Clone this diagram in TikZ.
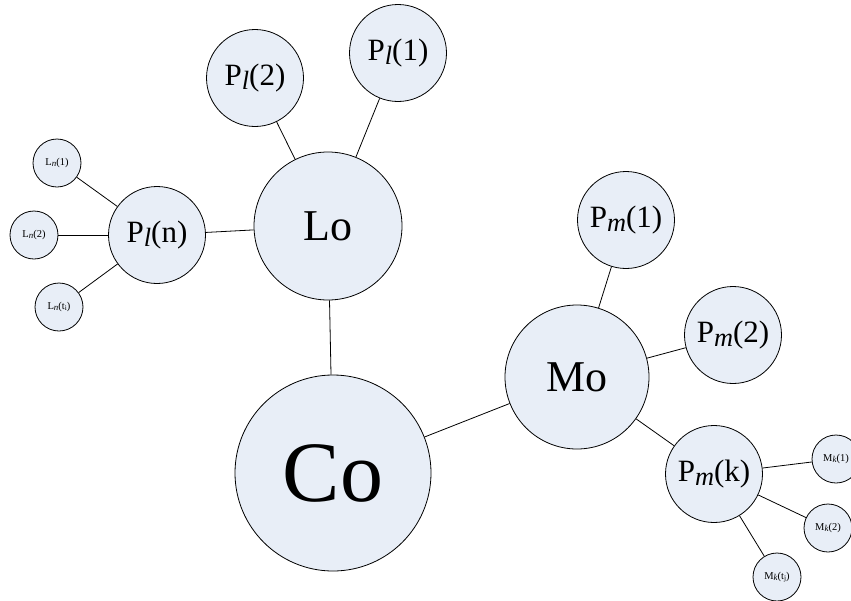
\documentclass[tikz,border=0pt]{standalone}
\usepackage{fontspec}
\setmainfont{Liberation Serif}
\usepackage{graphicx}
\definecolor{nodefill}{RGB}{232,238,247}
\newcommand{\mysub}[1]{\raisebox{-0.3ex}{\scalebox{0.85}{\itshape #1}}}
\newcommand{\mysubup}[1]{\raisebox{-0.3ex}{\scalebox{0.7}{#1}}}
\tikzset{
  bub/.style={circle, draw=black, line width=0.8pt, fill=nodefill, inner sep=0pt, text=black},
  huge/.style={bub, minimum size=196pt, font=\fontsize{86}{86}\selectfont},
  big/.style={bub, minimum size=#1, font=\fontsize{44}{44}\selectfont},
  mid/.style={bub, minimum size=97pt, font=\fontsize{31}{31}\selectfont},
  small/.style={bub, minimum size=48pt, font=\fontsize{10.5}{10.5}\selectfont},
  link/.style={draw=black, line width=0.8pt}
}
\begin{document}
\begin{tikzpicture}[x=1pt,y=-1pt]
\useasboundingbox (0,0) rectangle (851,600);
\node[huge] (co) at (333,473) {Co};
\node[big=148pt] (lo) at (328,226) {Lo};
\node[big=144pt] (mo) at (577,377) {Mo};
\node[mid] (pl2) at (255,78) {P\mysub{l}(2)};
\node[mid] (pl1) at (398,53) {P\mysub{l}(1)};
\node[mid] (pln) at (157,235) {P\mysub{l}(n)};
\node[mid] (pm1) at (626,220) {P\mysub{m}(1)};
\node[mid] (pm2) at (733,335) {P\mysub{m}(2)};
\node[mid] (pmk) at (714,474) {P\mysub{m}(k)};
\node[small] (ln1) at (57,163) {L\mysub{n}(1)};
\node[small] (ln2) at (34,235) {L\mysub{n}(2)};
\node[small] (lnt) at (59,307) {L\mysub{n}(t\mysubup{i})};
\node[small] (mk1) at (836,459) {M\mysub{k}(1)};
\node[small] (mk2) at (828,528) {M\mysub{k}(2)};
\node[small] (mkt) at (777,577) {M\mysub{k}(t\mysubup{j})};
\draw[link] (co) -- (lo);
\draw[link] (co) -- (mo);
\draw[link] (lo) -- (pl1);
\draw[link] (lo) -- (pl2);
\draw[link] (lo) -- (pln);
\draw[link] (pln) -- (ln1);
\draw[link] (pln) -- (ln2);
\draw[link] (pln) -- (lnt);
\draw[link] (mo) -- (pm1);
\draw[link] (mo) -- (pm2);
\draw[link] (mo) -- (pmk);
\draw[link] (pmk) -- (mk1);
\draw[link] (pmk) -- (mk2);
\draw[link] (pmk) -- (mkt);
\end{tikzpicture}
\end{document}
